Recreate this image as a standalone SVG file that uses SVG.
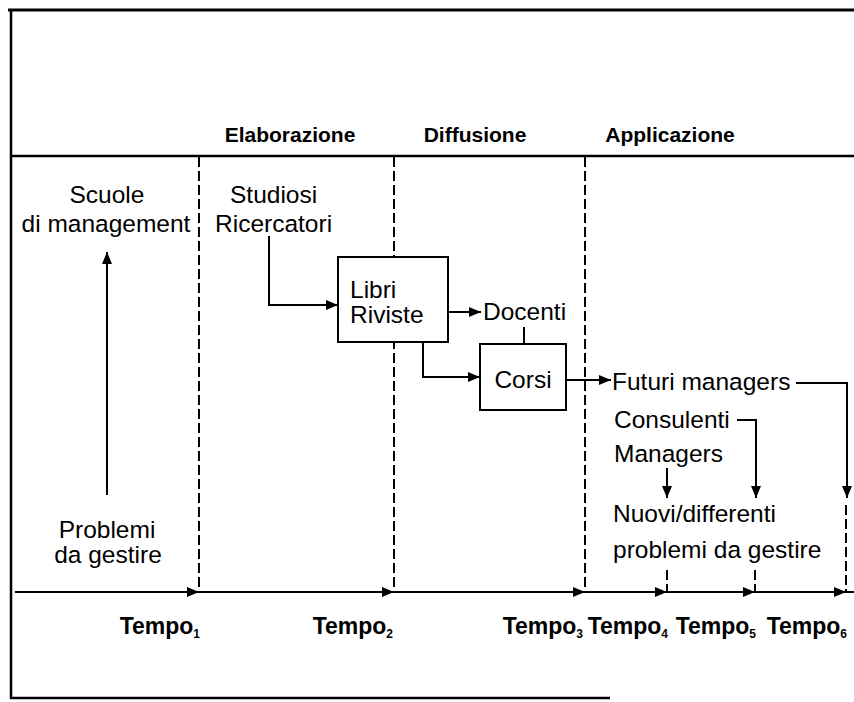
<svg xmlns="http://www.w3.org/2000/svg" width="854" height="702" viewBox="0 0 854 702">
<style>
.t{font-family:"Liberation Sans",Arial,sans-serif;font-size:24.5px;fill:#000}
.h{font-family:"Liberation Sans",Arial,sans-serif;font-size:21px;font-weight:bold;fill:#000}
.tp{font-family:"Liberation Sans",Arial,sans-serif;font-size:23px;font-weight:bold;fill:#000}
.sub{font-size:12px}
.frame{stroke:#000;stroke-width:2.5;fill:none}
.dash{stroke:#000;stroke-width:2;stroke-dasharray:10 4;fill:none}
.c{stroke:#000;stroke-width:2;fill:none}
.box{stroke:#000;stroke-width:2;fill:#fff}
</style>
<defs>
<marker id="ah" markerUnits="userSpaceOnUse" markerWidth="12" markerHeight="10" viewBox="0 0 12 10" refX="12" refY="5" orient="auto">
<path d="M0,0 L12,5 L0,10 Z" fill="#000"/>
</marker>
</defs>
<rect width="854" height="702" fill="#fff"/>
<g id="frame">
<line class="frame" x1="8" y1="10" x2="854" y2="10" style="stroke-width:3"/>
<line class="frame" x1="11" y1="9" x2="11" y2="699"/>
<line class="frame" x1="10" y1="698" x2="610" y2="698"/>
<line class="frame" x1="11" y1="156" x2="854" y2="156"/>
</g>
<g id="headers">
<text class="h" x="290" y="142" text-anchor="middle">Elaborazione</text>
<text class="h" x="475" y="142" text-anchor="middle">Diffusione</text>
<text class="h" x="670" y="142" text-anchor="middle">Applicazione</text>
</g>
<g id="connectors">
<line class="dash" x1="199" y1="157" x2="199" y2="592"/>
<line class="dash" x1="394" y1="157" x2="394" y2="592"/>
<line class="dash" x1="585" y1="157" x2="585" y2="592"/>
<line class="dash" x1="667" y1="570" x2="667" y2="592"/>
<line class="dash" x1="755" y1="570" x2="755" y2="592"/>
<line class="dash" x1="846" y1="505" x2="846" y2="592"/>
<line class="c" x1="15" y1="592" x2="199" y2="592" marker-end="url(#ah)"/>
<line class="c" x1="199" y1="592" x2="394" y2="592" marker-end="url(#ah)"/>
<line class="c" x1="394" y1="592" x2="585" y2="592" marker-end="url(#ah)"/>
<line class="c" x1="585" y1="592" x2="667" y2="592" marker-end="url(#ah)"/>
<line class="c" x1="667" y1="592" x2="755" y2="592" marker-end="url(#ah)"/>
<line class="c" x1="755" y1="592" x2="846" y2="592" marker-end="url(#ah)"/>
<line class="c" x1="846" y1="592" x2="854" y2="592"/>
<line class="c" x1="107" y1="495" x2="107" y2="252" marker-end="url(#ah)"/>
<polyline class="c" points="269,236 269,305 338,305" marker-end="url(#ah)"/>
<line class="c" x1="448" y1="312" x2="481" y2="312" marker-end="url(#ah)"/>
<polyline class="c" points="423,342 423,377 480,377" marker-end="url(#ah)"/>
<line class="c" x1="524" y1="327" x2="524" y2="344"/>
<line class="c" x1="566" y1="380" x2="611" y2="380" marker-end="url(#ah)"/>
<polyline class="c" points="796,383 847,383 847,498" marker-end="url(#ah)"/>
<polyline class="c" points="737,420 756,420 756,498" marker-end="url(#ah)"/>
<line class="c" x1="667" y1="468" x2="667" y2="498" marker-end="url(#ah)"/>
</g>
<g id="scuole"><text class="t" x="107" y="203" text-anchor="middle">Scuole</text><text class="t" x="106" y="232" text-anchor="middle">di management</text></g>
<g id="problemi"><text class="t" x="107" y="538" text-anchor="middle">Problemi</text><text class="t" x="108" y="563" text-anchor="middle">da gestire</text></g>
<g id="studiosi"><text class="t" x="230" y="203">Studiosi</text><text class="t" x="215" y="232">Ricercatori</text></g>
<g id="libri"><rect class="box" x="338" y="257" width="110" height="85"/><text class="t" x="350" y="298">Libri</text><text class="t" x="350" y="323">Riviste</text></g>
<g id="docenti"><text class="t" x="483" y="320">Docenti</text></g>
<g id="corsi"><rect class="box" x="480" y="344" width="86" height="66"/><text class="t" x="523" y="388" text-anchor="middle">Corsi</text></g>
<g id="futuri"><text class="t" x="612" y="390">Futuri managers</text></g>
<g id="consulenti"><text class="t" x="614" y="428">Consulenti</text></g>
<g id="managers"><text class="t" x="614" y="462">Managers</text></g>
<g id="nuovi"><text class="t" x="613" y="522">Nuovi/differenti</text><text class="t" x="613" y="558">problemi da gestire</text></g>
<g id="tempi">
<text class="tp" x="200" y="634" text-anchor="end">Tempo<tspan class="sub" dy="4">1</tspan></text>
<text class="tp" x="393" y="634" text-anchor="end">Tempo<tspan class="sub" dy="4">2</tspan></text>
<text class="tp" x="583" y="634" text-anchor="end">Tempo<tspan class="sub" dy="4">3</tspan></text>
<text class="tp" x="668" y="634" text-anchor="end">Tempo<tspan class="sub" dy="4">4</tspan></text>
<text class="tp" x="756" y="634" text-anchor="end">Tempo<tspan class="sub" dy="4">5</tspan></text>
<text class="tp" x="847" y="634" text-anchor="end">Tempo<tspan class="sub" dy="4">6</tspan></text>
</g>
</svg>
